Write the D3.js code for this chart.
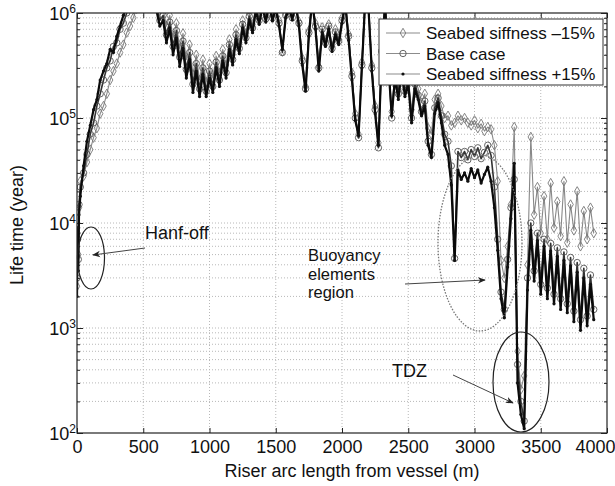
<!DOCTYPE html>
<html lang="en">

<head>
    <meta charset="UTF-8">
    <script src="https://cdn.jsdelivr.net/npm/d3@7"></script>
    <title>Riser life time</title>
    <style>
        body {
            margin: 0;
            background: white;
        }

        text {
            font-family: Arial, "Liberation Sans", sans-serif;
            fill: #111;
        }

        .grid line {
            stroke: #b8b8b8;
            stroke-width: 1px;
            stroke-dasharray: 1, 2;
        }

        .axis path {
            display: none;
        }

        .axis line {
            stroke: #222;
        }
    </style>
</head>

<body>
    <div class="fig"></div>

    <script>
        // arc length along the riser (m)
        const arcLength = [
            0, 5, 10, 15, 25, 50, 75, 100, 125, 150,
            175, 200, 225, 250, 275, 300, 325, 350, 375, 400,
            425, 450, 475, 500, 525, 550, 575, 600, 625, 650,
            675, 700, 725, 750, 775, 800, 825, 850, 875, 900,
            925, 950, 975, 1000, 1025, 1050, 1075, 1100, 1125, 1150,
            1175, 1200, 1225, 1250, 1275, 1300, 1325, 1350, 1375, 1400,
            1425, 1450, 1475, 1500, 1525, 1550, 1575, 1600, 1625, 1650,
            1675, 1700, 1725, 1750, 1775, 1800, 1825, 1850, 1875, 1900,
            1925, 1950, 1975, 2000, 2025, 2050, 2075, 2100, 2125, 2150,
            2175, 2200, 2225, 2250, 2275, 2300, 2325, 2350, 2375, 2400,
            2425, 2450, 2475, 2500, 2525, 2550, 2575, 2600, 2625, 2650,
            2675, 2700, 2725, 2750, 2775, 2800, 2825, 2850, 2875, 2900,
            2925, 2950, 2975, 3000, 3025, 3050, 3075, 3100, 3125, 3150,
            3175, 3200, 3225, 3250, 3275, 3300, 3325, 3350, 3375, 3400,
            3425, 3450, 3475, 3500, 3525, 3550, 3575, 3600, 3625, 3650,
            3675, 3700, 3725, 3750, 3775, 3800, 3825, 3850, 3875, 3900
        ];

        // life time (year), seabed stiffness -15%
        const lifeMinus15 = [
            2500, 8000, 5000, 14000, 25000, 28000, 38000, 50000, 65000, 80000,
            110000, 130000, 170000, 230000, 280000, 330000, 420000, 500000, 650000, 750000,
            9e5, 1.1e6, 1.4e6, 1.7e6, 1.9e6, 1.7e6, 1.5e6, 1.25e6, 1.05e6, 1.1e6,
            7.5e5, 9.5e5, 5.8e5, 8e5, 4.6e5, 6.4e5, 3.6e5, 5e5, 2.6e5, 4e5,
            2.3e5, 3.6e5, 2.2e5, 3.3e5, 2.4e5, 3.9e5, 2.7e5, 4.5e5, 3.2e5, 5.6e5,
            4e5, 7e5, 5.2e5, 8.5e5, 6.4e5, 1e6, 7.8e5, 1.15e6, 9e5, 1.25e6,
            9.5e5, 1.3e6, 9.5e5, 1.2e6, 8.5e5, 4.3e5, 9.8e5, 1.2e6, 1e6, 1.3e6,
            8.3e5, 3.7e5, 2e5, 6.8e5, 1.4e6, 8e5, 3.1e5, 7.3e5, 5.5e5, 7.8e5,
            4.8e5, 7e5, 5.7e5, 9e5, 1.3e6, 6.3e5, 2.7e5, 1.1e5, 7e4, 3.4e5,
            1.4e6, 1.2e6, 3.2e5, 1.3e5, 5.8e4, 4.5e5, 1.3e6, 3.8e5, 1.15e5, 2.8e5,
            1.9e5, 3.2e5, 2e5, 2.5e5, 1.2e5, 2.4e5, 1.9e5, 1.4e5, 1.7e5, 8e4,
            7e4, 1.5e5, 1.7e5, 1.3e5, 1e5, 1.05e5, 8.5e4, 9e4, 1.05e5, 9.5e4,
            1e5, 9e4, 8.5e4, 9.5e4, 8e4, 8.8e4, 7.5e4, 8.2e4, 7.8e4, 5.5e4,
            2.5e4, 4.4e3, 3e3, 6e3, 1.5e4, 8.2e4, 600, 260, 350, 4e3,
            6.6e4, 1.2e4, 2.2e4, 8e3, 1.8e4, 7e3, 2.4e4, 9e3, 1.6e4, 7.5e3,
            2.5e4, 6.5e3, 1.5e4, 8.5e3, 2e4, 6e3, 1.3e4, 7e3, 1.4e4, 8e3
        ];

        // life time (year), base case
        const lifeBase = [
            3000, 7000, 4500, 15000, 22000, 30000, 45000, 70000, 90000, 130000,
            170000, 230000, 300000, 350000, 480000, 520000, 700000, 800000, 1.0e6, 1.3e6,
            1.5e6, 1.7e6, 1.9e6, 2e6, 1.8e6, 1.6e6, 1.3e6, 1.15e6, 8.5e5, 9.5e5,
            6.2e5, 8.2e5, 4.8e5, 6.8e5, 3.8e5, 5.4e5, 2.9e5, 4.2e5, 2.1e5, 3.3e5,
            1.9e5, 3e5, 1.8e5, 2.8e5, 2e5, 3.4e5, 2.3e5, 3.9e5, 2.7e5, 5e5,
            3.6e5, 6.2e5, 4.6e5, 7.8e5, 5.8e5, 9.3e5, 7.2e5, 1.1e6, 8.5e5, 1.2e6,
            8.8e5, 1.25e6, 9e5, 1.15e6, 8e5, 4.2e5, 9.5e5, 1.15e6, 9e5, 1.25e6,
            8e5, 3.5e5, 1.9e5, 6.5e5, 1.35e6, 7.5e5, 3e5, 7e5, 5.2e5, 7.5e5,
            4.6e5, 6.6e5, 5.4e5, 8.5e5, 1.25e6, 6e5, 2.5e5, 1e5, 6.5e4, 3.2e5,
            1.35e6, 1.15e6, 3e5, 1.2e5, 5.2e4, 4.3e5, 1.25e6, 3.5e5, 1e5, 2.6e5,
            1.7e5, 3e5, 1.8e5, 2.3e5, 1e5, 2.1e5, 1.65e5, 1.15e5, 1.45e5, 6e4,
            4.5e4, 1.25e5, 1.55e5, 1.05e5, 7e4, 6e4, 3.5e4, 4.6e3, 4.8e4, 4.2e4,
            4.8e4, 4e4, 5e4, 4.3e4, 5.2e4, 4.1e4, 4.7e4, 5.5e4, 4.4e4, 2.2e4,
            7e3, 2.2e3, 1.5e3, 4.5e3, 1.4e4, 2.6e4, 450, 200, 130, 3e3,
            1e4, 3.5e3, 8e3, 2.6e3, 7e3, 2.4e3, 6.4e3, 2.1e3, 5.8e3, 1.9e3,
            5.3e3, 1.7e3, 4.7e3, 1.45e3, 4.2e3, 1.2e3, 3.7e3, 1.3e3, 3.2e3, 1.5e3
        ];

        // life time (year), seabed stiffness +15%
        const lifePlus15 = [
            2000, 9000, 3500, 12000, 18000, 35000, 60000, 85000, 120000, 150000,
            230000, 280000, 330000, 450000, 420000, 600000, 750000, 950000, 1.2e6, 1.5e6,
            1.6e6, 1.8e6, 2e6, 2e6, 1.9e6, 1.7e6, 1.4e6, 1.05e6, 7.5e5, 8.5e5,
            5.2e5, 7.2e5, 4e5, 5.8e5, 3.1e5, 4.6e5, 2.4e5, 3.6e5, 1.75e5, 2.8e5,
            1.6e5, 2.6e5, 1.6e5, 2.4e5, 1.75e5, 3e5, 2e5, 3.5e5, 2.4e5, 4.5e5,
            3.2e5, 5.6e5, 4.1e5, 7.2e5, 5.2e5, 8.6e5, 6.5e5, 1.05e6, 7.8e5, 1.15e6,
            8.2e5, 1.2e6, 8.4e5, 1.12e6, 7.5e5, 4.5e5, 9e5, 1.1e6, 8.6e5, 1.2e6,
            7.5e5, 3.2e5, 1.8e5, 6e5, 1.3e6, 7e5, 2.8e5, 6.5e5, 4.8e5, 7e5,
            4.3e5, 6.2e5, 5e5, 8e5, 1.2e6, 5.5e5, 2.3e5, 9.5e4, 6.8e4, 3e5,
            1.3e6, 1.1e6, 2.8e5, 1.1e5, 5.5e4, 4e5, 1.2e6, 3.2e5, 1.05e5, 2.4e5,
            1.5e5, 2.8e5, 1.6e5, 2.1e5, 9e4, 1.9e5, 1.5e5, 1.05e5, 1.3e5, 5.5e4,
            4.2e4, 1.1e5, 1.4e5, 9e4, 5.5e4, 4.5e4, 2.3e4, 4.4e3, 3.2e4, 2.6e4,
            3e4, 2.5e4, 3.3e4, 2.7e4, 3.2e4, 2.4e4, 2.9e4, 3.4e4, 2.5e4, 1.4e4,
            5.5e3, 1.9e3, 1.25e3, 3.8e3, 1.1e4, 3.7e4, 300, 150, 110, 2.3e3,
            8.5e3, 2.8e3, 6.8e3, 2.1e3, 6e3, 1.9e3, 5.4e3, 1.7e3, 4.8e3, 1.5e3,
            4.4e3, 1.4e3, 3.9e3, 1.15e3, 3.4e3, 950, 3e3, 1.05e3, 2.6e3, 1.2e3
        ];

        const seriesNames = ["Seabed siffness \u201315%", "Base case", "Seabed siffness +15%"];
        const xTicks = [0, 500, 1000, 1500, 2000, 2500, 3000, 3500, 4000];
        const yDecades = [2, 3, 4, 5, 6];

        const width = 615;
        const height = 486;
        const margin = { left: 77, right: 8, top: 13, bottom: 53 };

        const svg = d3.select(".fig").append("svg")
            .attr("width", width)
            .attr("height", height);

        const x = d3.scaleLinear()
            .domain([0, 4000])
            .range([margin.left, width - margin.right]);

        const y = d3.scaleLog()
            .domain([1e2, 1e6])
            .range([height - margin.bottom, margin.top]);

        const x0 = x.range()[0], x1 = x.range()[1];
        const y0 = y.range()[0], y1 = y.range()[1];

        // minor log ticks 2..9 in each decade
        const yMajor = yDecades.map(e => Math.pow(10, e));
        const yMinor = [];
        yDecades.slice(0, -1).forEach(e => {
            [2, 3, 4, 5, 6, 7, 8, 9].forEach(k => yMinor.push(k * Math.pow(10, e)));
        });

        // grid
        const grid = svg.append("g").attr("class", "grid");
        grid.selectAll(".gx")
            .data(xTicks.slice(1, -1))
            .enter().append("line")
            .attr("x1", d => x(d)).attr("x2", d => x(d))
            .attr("y1", y0).attr("y2", y1);
        grid.selectAll(".gy")
            .data(yMajor.slice(1, -1).concat(yMinor))
            .enter().append("line")
            .attr("x1", x0).attr("x2", x1)
            .attr("y1", d => y(d)).attr("y2", d => y(d));

        // ticks inside on all four sides
        const bottomAxis = svg.append("g").attr("class", "axis")
            .attr("transform", `translate(0,${y0})`)
            .call(d3.axisBottom(x).tickValues(xTicks).tickSize(-5).tickPadding(7).tickFormat(d3.format("d")));
        bottomAxis.selectAll("text")
            .attr("font-size", 18)
            .attr("font-family", "Arial, 'Liberation Sans', sans-serif")
            .attr("fill", "#111");
        // last label is pulled in so it stays on the page
        bottomAxis.selectAll(".tick")
            .filter(d => d === 4000)
            .select("text")
            .attr("text-anchor", "end")
            .attr("x", 8);
        svg.append("g").attr("class", "axis")
            .attr("transform", `translate(0,${y1})`)
            .call(d3.axisTop(x).tickValues(xTicks).tickSize(-5).tickFormat(""));
        svg.append("g").attr("class", "axis")
            .attr("transform", `translate(${x0},0)`)
            .call(d3.axisLeft(y).tickValues(yMajor).tickSize(-6).tickFormat(""));
        svg.append("g").attr("class", "axis")
            .attr("transform", `translate(${x0},0)`)
            .call(d3.axisLeft(y).tickValues(yMinor).tickSize(-3).tickFormat(""));
        svg.append("g").attr("class", "axis")
            .attr("transform", `translate(${x1},0)`)
            .call(d3.axisRight(y).tickValues(yMajor).tickSize(-6).tickFormat(""));
        svg.append("g").attr("class", "axis")
            .attr("transform", `translate(${x1},0)`)
            .call(d3.axisRight(y).tickValues(yMinor).tickSize(-3).tickFormat(""));

        // y labels as 10 with superscript
        const yLab = svg.append("g").selectAll("text")
            .data(yDecades)
            .enter().append("text")
            .attr("x", x0 - 1)
            .attr("y", d => y(Math.pow(10, d)) + 7)
            .attr("text-anchor", "end")
            .attr("font-size", 18);
        yLab.append("tspan").text("10");
        yLab.append("tspan")
            .attr("dy", -7)
            .attr("font-size", 12)
            .text(d => d);

        // series
        svg.append("clipPath").attr("id", "clip")
            .append("rect")
            .attr("x", x0).attr("y", y1)
            .attr("width", x1 - x0).attr("height", y0 - y1);

        const series = [
            { name: seriesNames[0], values: lifeMinus15, stroke: "#888", width: 1.1, marker: "diamond" },
            { name: seriesNames[1], values: lifeBase, stroke: "#333", width: 1.6, marker: "circle" },
            { name: seriesNames[2], values: lifePlus15, stroke: "#0a0a0a", width: 2.2, marker: "dot" }
        ];

        const line = d3.line()
            .x(d => x(d[0]))
            .y(d => y(d[1]));

        const plot = svg.append("g").attr("clip-path", "url(#clip)");

        const drawMarker = (g, type, cx, cy) => {
            if (type === "diamond") {
                g.append("path")
                    .attr("d", d3.symbol(d3.symbolDiamond, 26)())
                    .attr("transform", `translate(${cx},${cy})`)
                    .attr("fill", "none")
                    .attr("stroke", "#777")
                    .attr("stroke-width", 0.9);
            } else if (type === "circle") {
                g.append("circle")
                    .attr("cx", cx).attr("cy", cy).attr("r", 3.2)
                    .attr("fill", "none")
                    .attr("stroke", "#555")
                    .attr("stroke-width", 0.9);
            } else {
                g.append("circle")
                    .attr("cx", cx).attr("cy", cy).attr("r", 1.6)
                    .attr("fill", "#111");
            }
        };

        series.forEach(s => {
            const pts = arcLength.map((a, i) => [a, s.values[i]]);
            plot.append("path")
                .datum(pts)
                .attr("d", line)
                .attr("fill", "none")
                .attr("stroke", s.stroke)
                .attr("stroke-width", s.width)
                .attr("stroke-linejoin", "round");
            const mg = plot.append("g");
            pts.forEach(p => drawMarker(mg, s.marker, x(p[0]), y(p[1])));
        });

        // frame
        svg.append("rect")
            .attr("x", x0).attr("y", y1)
            .attr("width", x1 - x0).attr("height", y0 - y1)
            .attr("fill", "none")
            .attr("stroke", "#222")
            .attr("stroke-width", 1.2);

        // legend
        const legend = svg.append("g");
        legend.append("rect")
            .attr("x", 379).attr("y", 19)
            .attr("width", 224).attr("height", 66)
            .attr("fill", "white")
            .attr("stroke", "#333")
            .attr("stroke-width", 1);
        series.forEach((s, i) => {
            const ly = 33 + i * 20.5;
            legend.append("line")
                .attr("x1", 386).attr("x2", 420)
                .attr("y1", ly).attr("y2", ly)
                .attr("stroke", "#8c8c8c")
                .attr("stroke-width", 1.2);
            drawMarker(legend, s.marker, 403, ly);
            legend.append("text")
                .attr("x", 426).attr("y", ly + 6)
                .attr("font-size", 17)
                .text(s.name);
        });

        // axis titles
        svg.append("text")
            .attr("x", 352).attr("y", 477)
            .attr("text-anchor", "middle")
            .attr("font-size", 18)
            .text("Riser arc length from vessel (m)");
        svg.append("text")
            .attr("transform", `translate(23,225) rotate(-90)`)
            .attr("text-anchor", "middle")
            .attr("font-size", 18)
            .text("Life time (year)");

        // annotations
        const notes = svg.append("g");
        svg.append("defs").append("marker")
            .attr("id", "arrow")
            .attr("viewBox", "0 0 10 10")
            .attr("refX", 9).attr("refY", 5)
            .attr("markerWidth", 8).attr("markerHeight", 8)
            .attr("orient", "auto")
            .append("path")
            .attr("d", "M0,1 L10,5 L0,9 L3,5 Z")
            .attr("fill", "#222");

        notes.append("ellipse")
            .attr("cx", 91).attr("cy", 258).attr("rx", 13.5).attr("ry", 31)
            .attr("fill", "none").attr("stroke", "#222").attr("stroke-width", 1.2);
        notes.append("line")
            .attr("x1", 145).attr("y1", 248).attr("x2", 93).attr("y2", 255)
            .attr("stroke", "#444").attr("stroke-width", 1)
            .attr("marker-end", "url(#arrow)");
        notes.append("text")
            .attr("x", 145).attr("y", 239)
            .attr("font-size", 18)
            .text("Hanf-off");

        notes.append("ellipse")
            .attr("cx", 480).attr("cy", 243).attr("rx", 42).attr("ry", 88)
            .attr("fill", "none").attr("stroke", "#777").attr("stroke-width", 1.3)
            .attr("stroke-dasharray", "1.5,1.5");
        notes.append("line")
            .attr("x1", 405).attr("y1", 284).attr("x2", 485).attr("y2", 280)
            .attr("stroke", "#444").attr("stroke-width", 1)
            .attr("marker-end", "url(#arrow)");
        ["Buoyancy", "elements", "region"].forEach((t, i) => {
            notes.append("text")
                .attr("x", 308).attr("y", 261 + i * 18.5)
                .attr("font-size", 16.5)
                .text(t);
        });

        notes.append("ellipse")
            .attr("cx", 521).attr("cy", 382).attr("rx", 28).attr("ry", 50)
            .attr("fill", "none").attr("stroke", "#222").attr("stroke-width", 1.2);
        notes.append("line")
            .attr("x1", 453).attr("y1", 375).attr("x2", 513).attr("y2", 403)
            .attr("stroke", "#444").attr("stroke-width", 1)
            .attr("marker-end", "url(#arrow)");
        notes.append("text")
            .attr("x", 392).attr("y", 377)
            .attr("font-size", 18)
            .text("TDZ");
    </script>
</body>

</html>
